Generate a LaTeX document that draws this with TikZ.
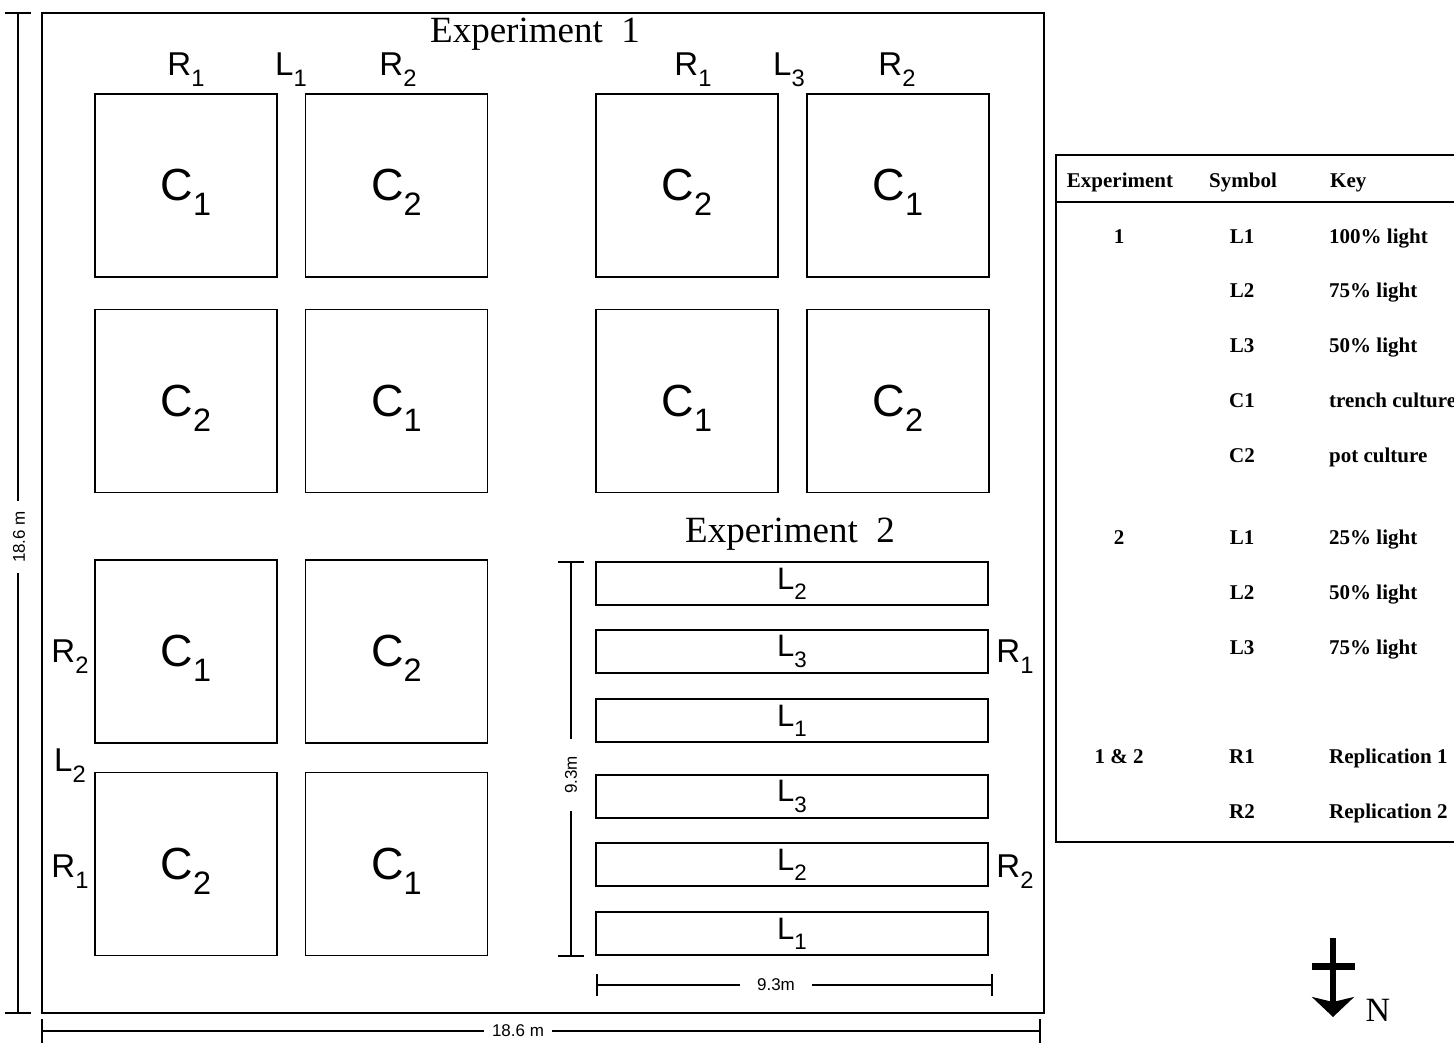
\documentclass[tikz,border=0pt]{standalone}
\usepackage{fontspec}
\setmainfont{Liberation Serif}
\setsansfont{Liberation Sans}
\usetikzlibrary{arrows.meta}
\newcommand{\psub}[2]{#1\smash{\raisebox{-0.33em}{\scalebox{0.72}{#2}}}}
\newcommand{\psubf}[2]{#1\raisebox{-0.33em}{\scalebox{0.72}{#2}}}
\newcommand{\fsz}[1]{\fontsize{#1}{#1}\selectfont}
\begin{document}
\begin{tikzpicture}[x=1pt,y=-1pt,
  fieldbox/.style={draw, line width=2.4pt, inner sep=0pt, minimum width=1002pt, minimum height=1000pt, anchor=north west},
  plotbox/.style={draw, line width=1.8pt, inner sep=0pt, minimum width=182pt, minimum height=183pt, font=\sffamily\fsz{45}},
  stripbox/.style={draw, line width=1.8pt, inner sep=0pt, minimum width=392pt, minimum height=43pt, font=\sffamily\fsz{31}},
  lab/.style={inner sep=0pt, font=\sffamily\fsz{33}},
  ttl/.style={inner sep=0pt, anchor=base, font=\rmfamily\fsz{37}},
  dim/.style={line width=1.6pt},
  dimlab/.style={fill=white, inner ysep=1pt, font=\sffamily\fsz{17}},
  tabline/.style={line width=1.5pt},
  tab/.style={inner sep=0pt, anchor=base, font=\rmfamily\bfseries\fsz{21}},
  tabkey/.style={tab, anchor=base west}
]
\useasboundingbox (0,0) rectangle (1454,1046);
\fill[white] (0,0) rectangle (1454,1046);

% field
\node[fieldbox] (field) at (41,12) {};
\node[ttl] (exp1) at (535,43) {Experiment\hspace{0.5em}1};
\node[ttl] (exp2) at (790,542) {Experiment\hspace{0.5em}2};

% experiment 1 plots
\node[plotbox] (p11) at (186,185.5) {\psub{C}{1}};
\node[plotbox] (p12) at (396.5,185.5) {\psub{C}{2}};
\node[plotbox] (p13) at (687,185.5) {\psub{C}{2}};
\node[plotbox] (p14) at (898,185.5) {\psub{C}{1}};
\node[plotbox] (p21) at (186,401) {\psub{C}{2}};
\node[plotbox] (p22) at (396.5,401) {\psub{C}{1}};
\node[plotbox] (p23) at (687,401) {\psub{C}{1}};
\node[plotbox] (p24) at (898,401) {\psub{C}{2}};
\node[plotbox] (p31) at (186,651.5) {\psub{C}{1}};
\node[plotbox] (p32) at (396.5,651.5) {\psub{C}{2}};
\node[plotbox] (p41) at (186,864) {\psub{C}{2}};
\node[plotbox] (p42) at (396.5,864) {\psub{C}{1}};

% labels experiment 1
\node[lab] (r1a) at (186,64) {\psub{R}{1}};
\node[lab] (l1a) at (291,64) {\psub{L}{1}};
\node[lab] (r2a) at (398,64) {\psub{R}{2}};
\node[lab] (r1b) at (693,64) {\psub{R}{1}};
\node[lab] (l3b) at (789,64) {\psub{L}{3}};
\node[lab] (r2b) at (897,64) {\psub{R}{2}};
\node[lab] (r2c) at (70,651) {\psub{R}{2}};
\node[lab] (l2c) at (70,760) {\psub{L}{2}};
\node[lab] (r1c) at (70,866) {\psub{R}{1}};

% experiment 2 strips
\node[stripbox] (s1) at (792,583.5) {\psubf{L}{2}};
\node[stripbox] (s2) at (792,651.5) {\psubf{L}{3}};
\node[stripbox] (s3) at (792,720.5) {\psubf{L}{1}};
\node[stripbox] (s4) at (792,796.5) {\psubf{L}{3}};
\node[stripbox] (s5) at (792,864.5) {\psubf{L}{2}};
\node[stripbox] (s6) at (792,933.5) {\psubf{L}{1}};
\node[lab] (r1d) at (1015,651) {\psub{R}{1}};
\node[lab] (r2d) at (1015,866) {\psub{R}{2}};

% dimension lines
\coordinate (dva) at (18,12);
\coordinate (dvb) at (18,1014);
\draw[dim, {Bar[width=26pt]}-{Bar[width=26pt]}] (dva) -- (dvb);
\node[dimlab, rotate=90, inner xsep=10pt] (dvl) at (19,537) {18.6 m};

\coordinate (dha) at (41,1031);
\coordinate (dhb) at (1041,1031);
\draw[dim, {Bar[width=24pt]}-{Bar[width=24pt]}] (dha) -- (dhb);
\node[dimlab, inner xsep=8pt] (dhl) at (518,1031) {18.6 m};

\coordinate (eva) at (571,561);
\coordinate (evb) at (571,957);
\draw[dim, {Bar[width=26pt]}-{Bar[width=26pt]}] (eva) -- (evb);
\node[dimlab, rotate=90, inner xsep=17pt] (evl) at (571,775) {9.3m};

\coordinate (eha) at (596,985);
\coordinate (ehb) at (993,985);
\draw[dim, {Bar[width=22pt]}-{Bar[width=22pt]}] (eha) -- (ehb);
\node[dimlab, inner xsep=17pt] (ehl) at (776,985) {9.3m};

% table
\begin{scope}
\clip (0,0) rectangle (1454,1046);
\draw[tabline] (1470,155) -- (1056,155) -- (1056,842) -- (1470,842);
\draw[tabline] (1056,202) -- (1470,202);
\node[tab] (h1) at (1120,187) {Experiment};
\node[tab] (h2) at (1243,187) {Symbol};
\node[tabkey] (h3) at (1330,187) {Key};

\node[tab] (e1) at (1119,243) {1};
\node[tab] (y1) at (1242,243) {L1};
\node[tabkey] (k1) at (1329,243) {100\% light};
\node[tab] (y2) at (1242,297) {L2};
\node[tabkey] (k2) at (1329,297) {75\% light};
\node[tab] (y3) at (1242,352) {L3};
\node[tabkey] (k3) at (1329,352) {50\% light};
\node[tab] (y4) at (1242,407) {C1};
\node[tabkey] (k4) at (1329,407) {trench culture};
\node[tab] (y5) at (1242,462) {C2};
\node[tabkey] (k5) at (1329,462) {pot culture};

\node[tab] (e2) at (1119,544) {2};
\node[tab] (y6) at (1242,544) {L1};
\node[tabkey] (k6) at (1329,544) {25\% light};
\node[tab] (y7) at (1242,599) {L2};
\node[tabkey] (k7) at (1329,599) {50\% light};
\node[tab] (y8) at (1242,654) {L3};
\node[tabkey] (k8) at (1329,654) {75\% light};

\node[tab] (e3) at (1119,763) {1 \& 2};
\node[tab] (y9) at (1242,763) {R1};
\node[tabkey] (k9) at (1329,763) {Replication 1};
\node[tab] (y10) at (1242,818) {R2};
\node[tabkey] (k10) at (1329,818) {Replication 2};
\end{scope}

% north arrow
\coordinate (ntop) at (1333,938);
\coordinate (nbot) at (1333,1017);
\draw[line width=6pt, -{Stealth[length=20pt,width=42pt,inset=5pt]}] (ntop) -- (nbot);
\draw[line width=7pt] (1312,966) -- (1355,966);
\node[inner sep=0pt, font=\rmfamily\fsz{34}] (north) at (1378,1010) {N};
\end{tikzpicture}
\end{document}
